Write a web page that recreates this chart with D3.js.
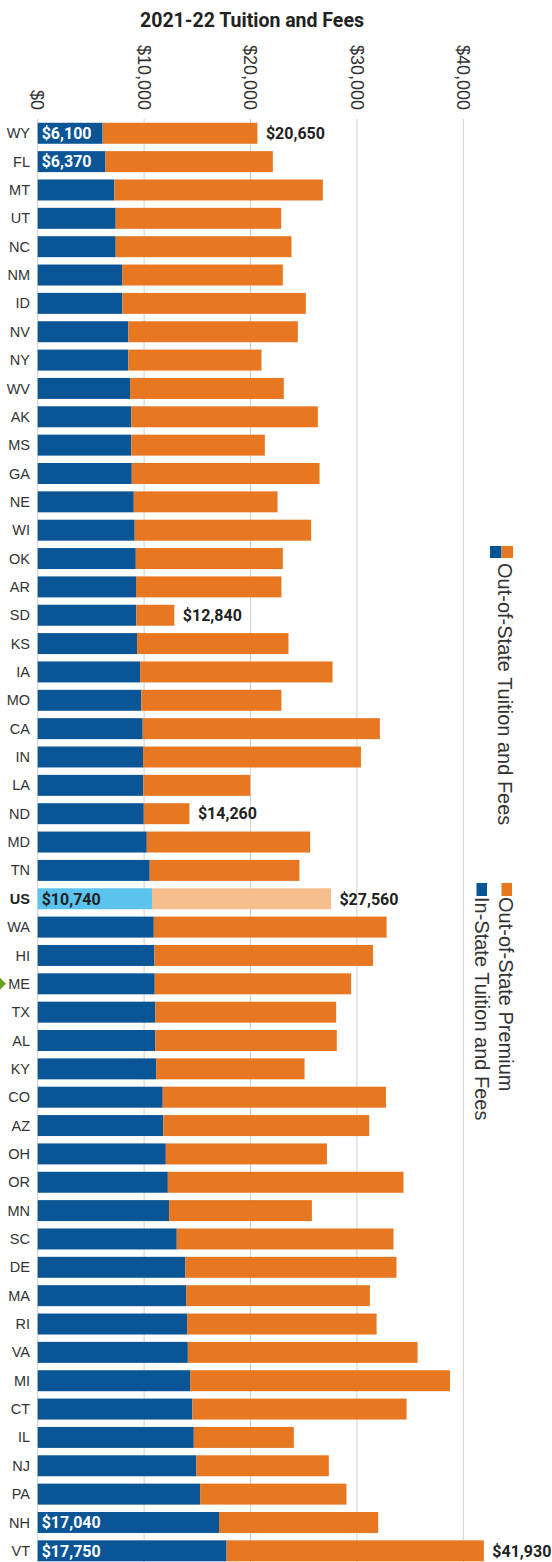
<!DOCTYPE html>
<html>
<head>
<meta charset="utf-8">
<script src="https://cdn.jsdelivr.net/npm/d3@7"></script>
<style>
  html, body { margin: 0; padding: 0; background: #fff; }
  svg { display: block; }
</style>
</head>
<body>
<svg id="chart" width="552" height="1562"></svg>
<script>
// ---- data ----
const states = ["WY","FL","MT","UT","NC","NM","ID","NV","NY","WV","AK","MS","GA","NE","WI","OK","AR","SD","KS","IA","MO","CA","IN","LA","ND","MD","TN","US","WA","HI","ME","TX","AL","KY","CO","AZ","OH","OR","MN","SC","DE","MA","RI","VA","MI","CT","IL","NJ","PA","NH","VT"];
const inState = [6100,6370,7210,7330,7330,7930,7960,8520,8520,8680,8800,8800,8840,9030,9120,9220,9240,9270,9340,9620,9740,9870,9900,9930,9970,10250,10530,10740,10910,10970,11000,11060,11060,11130,11750,11810,12040,12230,12350,13070,13880,13950,14040,14110,14320,14540,14670,14920,15260,17040,17750];
const outState = [20650,22100,26800,22880,23850,23040,25200,24450,21030,23130,26330,21350,26490,22540,25700,23040,22910,12840,23570,27710,22910,32160,30380,19970,14260,25610,24600,27560,32790,31510,29460,28050,28110,25080,32730,31160,27180,34380,25770,33440,33720,31220,31850,35700,38750,34670,24070,27360,29020,32000,41930];
const tickValues = [0, 10000, 20000, 30000, 40000];
const inLabelStates = ["WY","FL","US","NH","VT"];
const totalLabelStates = ["WY","SD","ND","US","VT"];
const highlightState = "ME";
const titleText = "2021-22 Tuition and Fees";
const legendSingle = "Out-of-State Tuition and Fees";
const legendPremium = "Out-of-State Premium";
const legendInState = "In-State Tuition and Fees";

// ---- styles ----
const C = {
  blue: "#0a5596", orange: "#e87722",
  usBlue: "#5cc3ee", usOrange: "#f6bd8d",
  grid: "#cfcfcf", text: "#333", dark: "#222", green: "#6aa121"
};
const sans = "'Liberation Sans', Arial, sans-serif";
const bold = "Roboto, 'Liberation Sans', sans-serif";

const rows = states.map((s, i) => ({ state: s, inS: inState[i], out: outState[i] }));

const svg = d3.select("#chart");
const x = d3.scaleLinear().domain([0, 40000]).range([37.7, 463.3]);
const y = d3.scaleBand().domain(states).range([119.1, 1565]).paddingInner(0.26).paddingOuter(0.13);
const fmt = d3.format("$,");

// title
svg.append("text").attr("x", 252).attr("y", 26.5).attr("text-anchor", "middle")
  .attr("font-family", bold).attr("font-weight", 700).attr("font-size", 19.5)
  .attr("fill", C.dark).text(titleText);

// grid lines
svg.append("g").selectAll("line").data(tickValues).join("line")
  .attr("x1", d => x(d)).attr("x2", d => x(d))
  .attr("y1", 119).attr("y2", 1562)
  .attr("stroke", C.grid).attr("stroke-width", 1);

// axis tick labels (rotated)
svg.append("g").selectAll("text").data(tickValues).join("text")
  .attr("transform", d => `translate(${x(d)},110) rotate(90)`)
  .attr("text-anchor", "end").attr("dy", "0.35em")
  .attr("font-family", sans).attr("font-size", 18).attr("fill", C.text)
  .text(d => fmt(d));

// bars
const g = svg.append("g");
g.selectAll("rect.in").data(rows).join("rect").attr("class", "in")
  .attr("x", x(0)).attr("y", d => y(d.state))
  .attr("width", d => x(d.inS) - x(0)).attr("height", y.bandwidth())
  .attr("fill", d => d.state === "US" ? C.usBlue : C.blue);
g.selectAll("rect.prem").data(rows).join("rect").attr("class", "prem")
  .attr("x", d => x(d.inS)).attr("y", d => y(d.state))
  .attr("width", d => x(d.out) - x(d.inS)).attr("height", y.bandwidth())
  .attr("fill", d => d.state === "US" ? C.usOrange : C.orange);

// state labels
svg.append("g").selectAll("text").data(rows).join("text")
  .attr("x", 30).attr("y", d => y(d.state) + y.bandwidth() / 2).attr("dy", "0.35em")
  .attr("text-anchor", "end").attr("font-family", sans).attr("font-size", 14.5)
  .attr("font-weight", d => d.state === "US" ? 700 : 400)
  .attr("fill", d => d.state === "US" ? C.dark : C.text)
  .text(d => d.state);

// highlight marker
const hy = y(highlightState) + y.bandwidth() / 2;
svg.append("path").attr("d", `M0,${hy - 6}L6,${hy}L0,${hy + 6}Z`).attr("fill", C.green);

// inside value labels
svg.append("g").selectAll("text").data(rows.filter(d => inLabelStates.includes(d.state))).join("text")
  .attr("x", x(0) + 4).attr("y", d => y(d.state) + y.bandwidth() / 2).attr("dy", "0.36em")
  .attr("font-family", bold).attr("font-weight", 700).attr("font-size", 16)
  .attr("fill", d => d.state === "US" ? C.dark : "#fff")
  .text(d => fmt(d.inS));

// total value labels
svg.append("g").selectAll("text").data(rows.filter(d => totalLabelStates.includes(d.state))).join("text")
  .attr("x", d => x(d.out) + 8.5).attr("y", d => y(d.state) + y.bandwidth() / 2).attr("dy", "0.36em")
  .attr("font-family", bold).attr("font-weight", 700).attr("font-size", 16)
  .attr("fill", C.dark)
  .text(d => fmt(d.out));

// legends (rotated)
const lg = svg.append("g");
lg.append("rect").attr("x", 490).attr("y", 546).attr("width", 11.5).attr("height", 12).attr("fill", C.blue);
lg.append("rect").attr("x", 501.5).attr("y", 546).attr("width", 11.5).attr("height", 12).attr("fill", C.orange);
lg.append("text").attr("transform", "translate(505,563) rotate(90)").attr("dy", "0.35em")
  .attr("font-family", sans).attr("font-size", 20).attr("fill", C.text).text(legendSingle);

lg.append("rect").attr("x", 501.5).attr("y", 883).attr("width", 10.5).attr("height", 13).attr("fill", C.orange);
lg.append("text").attr("transform", "translate(506,897) rotate(90)").attr("dy", "0.35em")
  .attr("font-family", sans).attr("font-size", 20).attr("fill", C.text).text(legendPremium);
lg.append("rect").attr("x", 476.5).attr("y", 883).attr("width", 10.5).attr("height", 13).attr("fill", C.blue);
lg.append("text").attr("transform", "translate(482,897) rotate(90)").attr("dy", "0.35em")
  .attr("font-family", sans).attr("font-size", 20).attr("fill", C.text).text(legendInState);
</script>
</body>
</html>
